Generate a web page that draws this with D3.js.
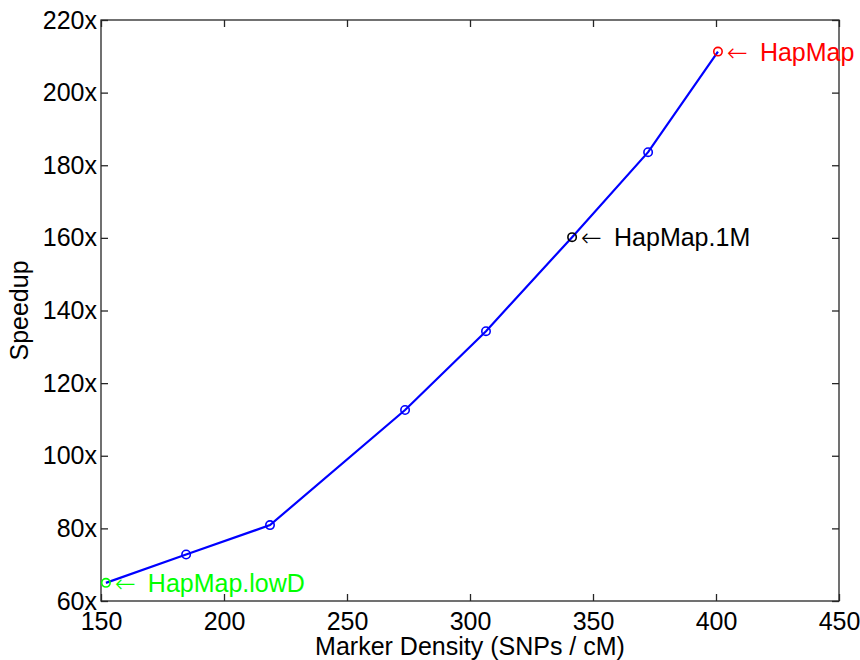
<!DOCTYPE html>
<html>
<head>
<meta charset="utf-8">
<script src="https://cdn.jsdelivr.net/npm/d3@7"></script>
<style>
  body { margin: 0; background: #fff; }
  text { font-family: "Liberation Sans", Arial, sans-serif; }
</style>
</head>
<body>
<div id="chart"></div>
<script>
// data
var density = [152, 184.6, 218.7, 273.6, 306.5, 341.5, 372.4, 400.8];
var speedup = [65, 72.8, 80.9, 112.6, 134.3, 160.2, 183.6, 211.3];
var pointColors = ["#00ff00", "#0000ff", "#0000ff", "#0000ff", "#0000ff", "#000000", "#0000ff", "#ff0000"];
var xTicks = [150, 200, 250, 300, 350, 400, 450];
var yTicks = [60, 80, 100, 120, 140, 160, 180, 200, 220];
var notes = [
  { index: 0, text: "HapMap.lowD", color: "#00ff00" },
  { index: 5, text: "HapMap.1M", color: "#000000" },
  { index: 7, text: "HapMap", color: "#ff0000" }
];

var width = 860, height = 660;
var margin = { left: 101, top: 20, right: 21, bottom: 59 };

var svg = d3.select("#chart").append("svg")
  .attr("width", width)
  .attr("height", height);

var x = d3.scaleLinear().domain([150, 450]).range([margin.left, width - margin.right]);
var y = d3.scaleLinear().domain([60, 220]).range([height - margin.bottom, margin.top]);

var axisColor = "#262626", tickLen = 7, fontSize = 25;

// box with mirrored inward ticks
var g = svg.append("g");
g.append("rect")
  .attr("x", x(150)).attr("y", y(220))
  .attr("width", x(450) - x(150)).attr("height", y(60) - y(220))
  .attr("fill", "none").attr("stroke", axisColor).attr("stroke-width", 1.3);

var xAxisB = d3.axisBottom(x).tickValues(xTicks).tickSizeInner(-tickLen).tickSizeOuter(0).tickPadding(11);
var xAxisT = d3.axisTop(x).tickValues(xTicks).tickSizeInner(-tickLen).tickSizeOuter(0).tickFormat("");
var yAxisL = d3.axisLeft(y).tickValues(yTicks).tickSizeInner(-tickLen).tickSizeOuter(0).tickPadding(4)
  .tickFormat(function(d) { return d + "x"; });
var yAxisR = d3.axisRight(y).tickValues(yTicks).tickSizeInner(-tickLen).tickSizeOuter(0).tickFormat("");

function styleAxis(sel) {
  sel.select(".domain").remove();
  sel.selectAll("line").attr("stroke", axisColor).attr("stroke-width", 1.3);
  sel.selectAll("text").attr("fill", "#000").style("font-size", fontSize + "px");
}

g.append("g").attr("transform", "translate(0," + y(60) + ")").call(xAxisB).call(styleAxis);
g.append("g").attr("transform", "translate(0," + y(220) + ")").call(xAxisT).call(styleAxis);
g.append("g").attr("transform", "translate(" + x(150) + ",0)").call(yAxisL).call(styleAxis);
g.append("g").attr("transform", "translate(" + x(450) + ",0)").call(yAxisR).call(styleAxis);

// axis titles
svg.append("text")
  .attr("x", (x(150) + x(450)) / 2).attr("y", 655)
  .attr("text-anchor", "middle").style("font-size", fontSize + "px")
  .text("Marker Density (SNPs / cM)");

svg.append("text")
  .attr("transform", "translate(28," + ((y(60) + y(220)) / 2) + ") rotate(-90)")
  .attr("text-anchor", "middle").style("font-size", fontSize + "px")
  .text("Speedup");

// line
var pts = density.map(function(d, i) { return [d, speedup[i]]; });
var line = d3.line().x(function(d) { return x(d[0]); }).y(function(d) { return y(d[1]); });

svg.append("path")
  .datum(pts)
  .attr("d", line)
  .attr("fill", "none")
  .attr("stroke", "#0000ff")
  .attr("stroke-width", 2.2);

svg.selectAll("circle.pt")
  .data(pts)
  .enter().append("circle")
  .attr("class", "pt")
  .attr("cx", function(d) { return x(d[0]); })
  .attr("cy", function(d) { return y(d[1]); })
  .attr("r", 4.2)
  .attr("fill", "none")
  .attr("stroke", function(d, i) { return pointColors[i]; })
  .attr("stroke-width", 1.6);

// annotations: thin long arrow, then the label
var note = svg.selectAll("text.note")
  .data(notes)
  .enter().append("text")
  .attr("class", "note")
  .attr("x", function(d) { return x(density[d.index]) + 9; })
  .attr("y", function(d) { return y(speedup[d.index]) + 9; })
  .attr("fill", function(d) { return d.color; })
  .style("font-size", fontSize + "px");

note.append("tspan")
  .style("font-family", "'DejaVu Sans', sans-serif")
  .style("font-weight", "200")
  .text("\u2190");
note.append("tspan")
  .attr("dx", 12)
  .text(function(d) { return d.text; });
</script>
</body>
</html>
